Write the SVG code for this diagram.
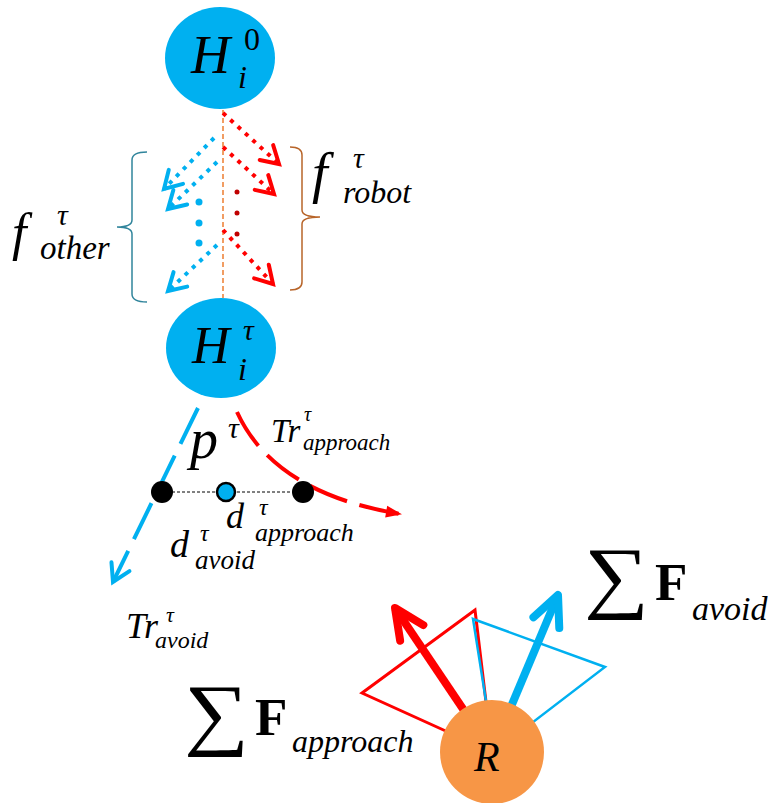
<svg xmlns="http://www.w3.org/2000/svg" width="768" height="803" viewBox="0 0 768 803">
<style>
.m{font-family:"Liberation Serif","Times New Roman","DejaVu Serif",serif;font-style:italic;fill:#000}
.u{font-family:"Liberation Serif","Times New Roman","DejaVu Serif",serif;fill:#000}
.b{font-family:"Liberation Serif","Times New Roman","DejaVu Serif",serif;font-weight:bold;fill:#000}
.node{fill:#00b0f0}
.dotR{stroke:#ff0000;stroke-width:4;stroke-dasharray:4 6;fill:none}
.dotB{stroke:#00b0f0;stroke-width:4;stroke-dasharray:4 6;fill:none}
</style>
<defs>
<marker id="chR" markerUnits="userSpaceOnUse" markerWidth="30" markerHeight="30" refX="17" refY="10" orient="auto" overflow="visible">
<path d="M0,0 L17,10 L0,20" fill="none" stroke="#ff0000" stroke-width="4" stroke-linecap="round"/>
</marker>
<marker id="chB" markerUnits="userSpaceOnUse" markerWidth="30" markerHeight="30" refX="17" refY="10" orient="auto" overflow="visible">
<path d="M0,0 L17,10 L0,20" fill="none" stroke="#00b0f0" stroke-width="4" stroke-linecap="round"/>
</marker>
<marker id="triR" markerUnits="userSpaceOnUse" markerWidth="20" markerHeight="20" refX="14" refY="6" orient="auto" overflow="visible">
<path d="M0,0 L16,6 L0,12 Z" fill="#ff0000"/>
</marker>
<marker id="bigR" markerUnits="userSpaceOnUse" markerWidth="40" markerHeight="40" refX="30" refY="14" orient="auto" overflow="visible">
<path d="M0,0 L30,14 L0,28" fill="none" stroke="#ff0000" stroke-width="8" stroke-linecap="round" stroke-linejoin="round"/>
</marker>
<marker id="bigB" markerUnits="userSpaceOnUse" markerWidth="40" markerHeight="40" refX="30" refY="14" orient="auto" overflow="visible">
<path d="M0,0 L30,14 L0,28" fill="none" stroke="#00b0f0" stroke-width="8" stroke-linecap="round" stroke-linejoin="round"/>
</marker>
</defs>

<g id="connectors">
<line x1="223" y1="110" x2="223" y2="298" stroke="#ed7d31" stroke-width="1.5" stroke-dasharray="5 3"/>
<line class="dotR" x1="223" y1="113" x2="279" y2="164" marker-end="url(#chR)"/>
<line class="dotR" x1="223" y1="147" x2="274" y2="194" marker-end="url(#chR)"/>
<line class="dotR" x1="223" y1="230" x2="273" y2="284" marker-end="url(#chR)"/>
<line class="dotB" x1="214" y1="138" x2="164" y2="189" marker-end="url(#chB)"/>
<line class="dotB" x1="217" y1="162" x2="168" y2="209" marker-end="url(#chB)"/>
<line class="dotB" x1="217" y1="245" x2="168" y2="291" marker-end="url(#chB)"/>
<circle cx="237" cy="192" r="2.5" fill="#c00000"/>
<circle cx="237" cy="213" r="2.5" fill="#c00000"/>
<circle cx="237" cy="234" r="2.5" fill="#c00000"/>
<circle cx="199" cy="202" r="3.5" fill="#00b0f0"/>
<circle cx="199" cy="223" r="3.5" fill="#00b0f0"/>
<circle cx="199" cy="243" r="3.5" fill="#00b0f0"/>
<path d="M147,152 Q132,152 132,160 L132,220 Q132,227 117,227 Q132,227 132,234 L132,294 Q132,302 147,302" fill="none" stroke="#31859c" stroke-width="1.5"/>
<path d="M290,147 Q302,147 302,155 L302,210 Q302,217 320,217 Q302,217 302,224 L302,282 Q302,290 290,290" fill="none" stroke="#b8652a" stroke-width="1.5"/>
<line x1="198" y1="408" x2="113" y2="582" stroke="#00b0f0" stroke-width="4" stroke-dasharray="40 13" marker-end="url(#chB)"/>
<path d="M237,412 Q274,493 400,514" fill="none" stroke="#ff0000" stroke-width="4" stroke-dasharray="40 13" marker-end="url(#triR)"/>
<line x1="162" y1="492" x2="303" y2="492" stroke="#000" stroke-width="1" stroke-dasharray="3 2"/>
<polygon points="492,752 362,693 475,610" fill="none" stroke="#ff0000" stroke-width="3"/>
<polygon points="494,752 473,619 605,667" fill="none" stroke="#00b0f0" stroke-width="2.5"/>
<line x1="492" y1="752" x2="395" y2="608" stroke="#ff0000" stroke-width="8" marker-end="url(#bigR)"/>
<line x1="492" y1="752" x2="558" y2="595" stroke="#00b0f0" stroke-width="8" marker-end="url(#bigB)"/>
</g>

<g id="H0">
<ellipse class="node" cx="220" cy="58" rx="55" ry="51"/>
<text class="m" x="191" y="73" font-size="54">H</text>
<text class="u" x="244" y="50" font-size="32">0</text>
<text class="m" x="238" y="88" font-size="32">i</text>
</g>

<g id="Htau">
<ellipse class="node" cx="221" cy="348" rx="55" ry="50"/>
<text class="m" x="192" y="363" font-size="52">H</text>
<text class="m" x="243" y="340" font-size="30">τ</text>
<text class="m" x="238" y="380" font-size="32">i</text>
</g>

<g id="f-robot">
<text class="m" x="312" y="192" font-size="56">f</text>
<text class="m" x="353" y="168" font-size="30">τ</text>
<text class="m" x="343" y="203" font-size="32">robot</text>
</g>

<g id="f-other">
<text class="m" x="12" y="250" font-size="52">f</text>
<text class="m" x="57" y="225" font-size="30">τ</text>
<text class="m" x="40" y="259" font-size="33">other</text>
</g>

<g id="points">
<circle cx="162" cy="492" r="11" fill="#000"/>
<circle cx="303" cy="492" r="11" fill="#000"/>
<circle cx="226" cy="492" r="9" fill="#00b0f0" stroke="#000" stroke-width="2.5"/>
</g>

<g id="p-tau">
<text class="m" x="190" y="458" font-size="56">p</text>
<text class="m" x="228" y="438" font-size="30">τ</text>
</g>

<g id="Tr-approach">
<text class="m" x="271" y="442" font-size="33">Tr</text>
<text class="m" x="304" y="421" font-size="20">τ</text>
<text class="m" x="303" y="450" font-size="23">approach</text>
</g>

<g id="d-approach">
<text class="m" x="226" y="528" font-size="36">d</text>
<text class="m" x="259" y="515" font-size="24">τ</text>
<text class="m" x="255" y="541" font-size="26">approach</text>
</g>

<g id="d-avoid">
<text class="m" x="170" y="557" font-size="38">d</text>
<text class="m" x="200" y="541" font-size="24">τ</text>
<text class="m" x="195" y="569" font-size="27">avoid</text>
</g>

<g id="Tr-avoid">
<text class="m" x="126" y="638" font-size="36">Tr</text>
<text class="m" x="166" y="622" font-size="22">τ</text>
<text class="m" x="155" y="648" font-size="24">avoid</text>
</g>

<g id="R">
<circle cx="492" cy="752" r="52" fill="#f79646"/>
<text class="m" x="474" y="771" font-size="42">R</text>
</g>

<g id="sum-approach">
<text class="u" font-size="80" transform="translate(184,740) scale(1.14,1)">∑</text>
<text class="b" x="255" y="735" font-size="53">F</text>
<text class="m" x="292" y="752" font-size="32">approach</text>
</g>

<g id="sum-avoid">
<text class="u" font-size="80" transform="translate(584,603) scale(1.14,1)">∑</text>
<text class="b" x="655" y="600" font-size="53">F</text>
<text class="m" x="692" y="620" font-size="34">avoid</text>
</g>
</svg>
